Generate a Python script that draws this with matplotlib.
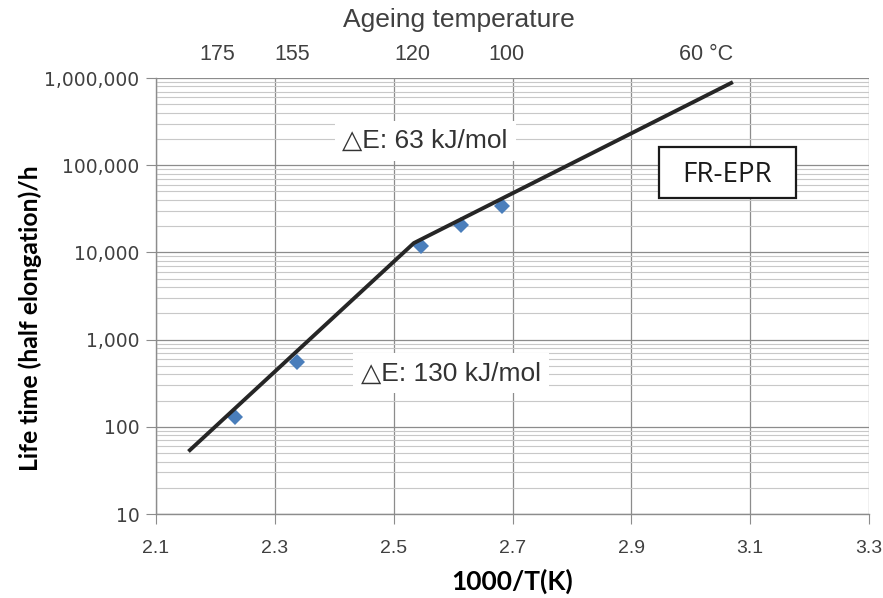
import matplotlib.pyplot as plt
from matplotlib.ticker import FixedLocator, FuncFormatter, LogLocator, NullFormatter
from matplotlib.patches import Rectangle
import matplotlib.transforms as mtransforms

# measured points (1000/T, life time in h)
inv_temp = [2.233, 2.337, 2.546, 2.613, 2.682]
life_h = [129, 550, 11800, 20600, 34000]

# fitted Arrhenius line (two segments)
fit_x = [2.157, 2.534, 3.068]
fit_y = [54, 12800, 877000]

# top axis: ageing temperature labels (degC)
top_labels = ["175", "155", "120", "100", "60 \u00b0C"]
top_label_x = [2.203, 2.329, 2.531, 2.689, 3.025]

x_ticks = [2.1, 2.3, 2.5, 2.7, 2.9, 3.1, 3.3]

grey = "#8c8c8c"
tick_col = "#404040"
fam = ["Liberation Sans", "DejaVu Sans"]

fig = plt.figure(figsize=(8.83, 5.98), dpi=100)
ax = fig.add_axes([156 / 883, 1 - 514 / 598, (869 - 156) / 883, (514 - 78) / 598])

ax.set_yscale("log")
ax.set_xlim(2.1, 3.3)
ax.set_ylim(10, 1e6)

# grid
ax.yaxis.set_minor_locator(LogLocator(base=10, subs=range(2, 10)))
ax.yaxis.set_minor_formatter(NullFormatter())
ax.grid(which="major", axis="both", color=grey, lw=0.9)
ax.grid(which="minor", axis="y", color="#c8c8c8", lw=0.8)
ax.set_axisbelow(True)

ax.xaxis.set_major_locator(FixedLocator(x_ticks))
ax.xaxis.set_major_formatter(FuncFormatter(lambda v, p: f"{v:.1f}"))
ax.yaxis.set_major_formatter(FuncFormatter(lambda v, p: f"{int(round(v)):,}"))

for s in ["top", "right"]:
    ax.spines[s].set_visible(False)
for s in ["left", "bottom"]:
    ax.spines[s].set_color(grey)
    ax.spines[s].set_linewidth(1.0)

ax.tick_params(axis="both", which="major", direction="out", length=7, color=grey,
               labelcolor=tick_col)
ax.tick_params(axis="y", which="minor", length=0)
ax.tick_params(axis="x", pad=12, labelsize=14)
ax.tick_params(axis="y", pad=5, labelsize=13.5)
for lab in ax.get_xticklabels():
    lab.set_family("Liberation Sans")
for lab in ax.get_yticklabels():
    lab.set_family("DejaVu Sans")

# data
ax.plot(fit_x, fit_y, color="#262626", lw=2.8, zorder=3)
ax.plot(inv_temp, life_h, ls="none", marker="D", ms=8, color="#4a7ebb",
        markeredgewidth=0, zorder=2)

# activation energy labels
ax.text(2.553, 1.9e5, "\u25b3E: 63 kJ/mol", ha="center", va="center", fontsize=19,
        family=fam, color="#333333",
        bbox=dict(boxstyle="square,pad=0.3", fc="white", ec="none"), zorder=4)
ax.text(2.597, 410, "\u25b3E: 130 kJ/mol", ha="center", va="center", fontsize=19,
        family=fam, color="#333333",
        bbox=dict(boxstyle="square,pad=0.3", fc="white", ec="none"), zorder=4)

# material box
ax.add_patch(Rectangle(((659 - 156) / 713, (514 - 198) / 436), 137 / 713, 51 / 436,
                       transform=ax.transAxes, fc="white", ec="#1a1a1a", lw=1.6, zorder=4))
ax.text((727 - 156) / 713, (514 - 175) / 436, "FR-EPR", transform=ax.transAxes,
        ha="center", va="center", fontsize=20, family="Open Sans", color="#1a1a1a", zorder=5)

# top temperature labels
trans = mtransforms.blended_transform_factory(ax.transData, ax.transAxes)
for lab, xp in zip(top_labels, top_label_x):
    ax.text(xp, 1.053, lab, transform=trans, ha="center", va="center",
            fontsize=15.5, family="Liberation Sans", color="#404040")
ax.text(0.425, 1.133, "Ageing temperature", transform=ax.transAxes, ha="center",
        va="center", fontsize=19, family="Liberation Sans", color="#404040")

ax.set_xlabel("1000/T(K)", fontsize=19, fontweight="bold", family="Lato", labelpad=8)
ax.set_ylabel("Life time (half elongation)/h", fontsize=17.8, fontweight="bold",
              family="Lato", labelpad=8)
ax.yaxis.set_label_coords(-0.16, 0.45)

fig.savefig("out.png", dpi=100)
